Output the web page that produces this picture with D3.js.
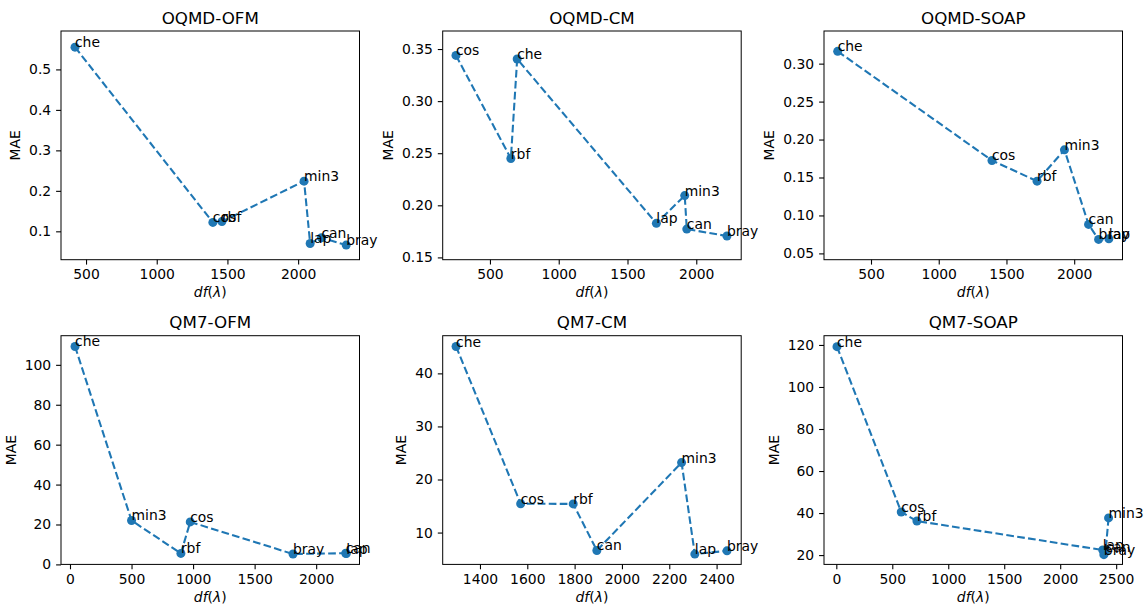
<!DOCTYPE html>
<html>
<head>
<meta charset="utf-8">
<script src="https://cdn.jsdelivr.net/npm/d3@7"></script>
<style>
  body { margin: 0; background: #fff; }
  svg { display: block; font-family: 'DejaVu Sans', sans-serif; }
  .tick text { font-size: 13.9px; fill: #000; }
  .tick line { stroke: #000; stroke-width: 1.1px; }
</style>
</head>
<body>
<div id="chart"></div>
<script>
// methods, same order for every panel
var methods = ['che', 'cos', 'rbf', 'min3', 'lap', 'can', 'bray'];

var titles = ['OQMD-OFM', 'OQMD-CM', 'OQMD-SOAP', 'QM7-OFM', 'QM7-CM', 'QM7-SOAP'];

// df(lambda) per panel (order of methods)
var oqmdOfmDf  = [422, 1397, 1461, 2042, 2085, 2165, 2340];
var oqmdCmDf   = [698, 253, 652, 1916, 1710, 1931, 2223];
var oqmdSoapDf = [254, 1393, 1726, 1928, 2256, 2106, 2180];
var qm7OfmDf   = [41, 977, 901, 500, 2245, 2240, 1812];
var qm7CmDf    = [1299, 1572, 1794, 2252, 2308, 1894, 2444];
var qm7SoapDf  = [6, 580, 720, 2432, 2380, 2405, 2390];

// MAE per panel (order of methods)
var oqmdOfmMae  = [0.555, 0.122, 0.124, 0.224, 0.070, 0.084, 0.066];
var oqmdCmMae   = [0.3404, 0.3439, 0.2449, 0.2093, 0.1827, 0.1772, 0.1705];
var oqmdSoapMae = [0.3162, 0.1724, 0.1452, 0.1864, 0.0693, 0.0882, 0.0684];
var qm7OfmMae   = [109.2, 21.3, 5.5, 22.0, 5.4, 5.6, 5.2];
var qm7CmMae    = [45.06, 15.44, 15.40, 23.19, 5.94, 6.63, 6.56];
var qm7SoapMae  = [119.2, 40.5, 36.2, 37.7, 22.4, 21.6, 20.2];

// axis limits and ticks
var xLims = [[323, 2434], [156.5, 2326.6], [153, 2356.6], [-73, 2352], [1242.5, 2504], [-110, 2556.5]];
var yLims = [[0.0299, 0.5949], [0.1478, 0.3673], [0.0417, 0.343], [0, 114.6], [4.0, 47.1], [15.57, 124.4]];
var xTicks = [
  [500, 1000, 1500, 2000], [500, 1000, 1500, 2000], [500, 1000, 1500, 2000],
  [0, 500, 1000, 1500, 2000], [1400, 1600, 1800, 2000, 2200, 2400], [0, 500, 1000, 1500, 2000, 2500]
];
var yTicks = [
  [0.1, 0.2, 0.3, 0.4, 0.5], [0.15, 0.20, 0.25, 0.30, 0.35], [0.05, 0.10, 0.15, 0.20, 0.25, 0.30],
  [0, 20, 40, 60, 80, 100], [10, 20, 30, 40], [20, 40, 60, 80, 100, 120]
];
var yFormats = ['.1f', '.2f', '.2f', 'd', 'd', 'd'];

var dfs = [oqmdOfmDf, oqmdCmDf, oqmdSoapDf, qm7OfmDf, qm7CmDf, qm7SoapDf];
var maes = [oqmdOfmMae, oqmdCmMae, oqmdSoapMae, qm7OfmMae, qm7CmMae, qm7SoapMae];

var W = 1147, H = 607;
var colLeft = [61, 442.7, 824], colW = 298.5;
var rowTop = [31, 335.7], rowH = 228.7;
var blue = '#1f77b4';
var fs = 13.9;

var svg = d3.select('#chart').append('svg').attr('width', W).attr('height', H);

titles.forEach(function (title, p) {
  var left = colLeft[p % 3], top = rowTop[Math.floor(p / 3)];
  var g = svg.append('g').attr('transform', 'translate(' + left + ',' + top + ')');

  var x = d3.scaleLinear().domain(xLims[p]).range([0, colW]);
  var y = d3.scaleLinear().domain(yLims[p]).range([rowH, 0]);

  var pts = methods.map(function (m, i) { return { name: m, df: dfs[p][i], mae: maes[p][i] }; });
  var sorted = pts.slice().sort(function (a, b) { return a.df - b.df; });

  // axes
  var xa = g.append('g').attr('transform', 'translate(0,' + rowH + ')')
    .call(d3.axisBottom(x).tickValues(xTicks[p]).tickSize(4.9).tickPadding(4.9).tickSizeOuter(0).tickFormat(d3.format('d')));
  var ya = g.append('g')
    .call(d3.axisLeft(y).tickValues(yTicks[p]).tickSize(4.9).tickPadding(4.9).tickSizeOuter(0).tickFormat(d3.format(yFormats[p])));
  xa.select('.domain').remove();
  ya.select('.domain').remove();
  xa.selectAll('text').attr('font-family', 'DejaVu Sans').attr('font-size', fs);
  ya.selectAll('text').attr('font-family', 'DejaVu Sans').attr('font-size', fs);

  // dashed line (sorted by df)
  g.append('path')
    .datum(sorted)
    .attr('fill', 'none')
    .attr('stroke', blue)
    .attr('stroke-width', 2.08)
    .attr('stroke-dasharray', '7.7,3.3')
    .attr('d', d3.line().x(function (d) { return x(d.df); }).y(function (d) { return y(d.mae); }));

  g.selectAll('circle.pt').data(pts).enter().append('circle')
    .attr('class', 'pt')
    .attr('cx', function (d) { return x(d.df); })
    .attr('cy', function (d) { return y(d.mae); })
    .attr('r', 4.5)
    .attr('fill', blue);

  g.selectAll('text.lbl').data(pts).enter().append('text')
    .attr('class', 'lbl')
    .attr('x', function (d) { return x(d.df); })
    .attr('y', function (d) { return y(d.mae); })
    .attr('font-size', fs)
    .attr('fill', '#000')
    .text(function (d) { return d.name; });

  // frame
  g.append('rect').attr('width', colW).attr('height', rowH)
    .attr('fill', 'none').attr('stroke', '#000').attr('stroke-width', 1);

  // title
  g.append('text').attr('x', colW / 2).attr('y', -7.5)
    .attr('text-anchor', 'middle').attr('font-size', 16.7).attr('fill', '#000')
    .text(title);

  // x label
  var xl = g.append('text').attr('x', colW / 2).attr('y', rowH + 37.5)
    .attr('text-anchor', 'middle').attr('font-size', fs).attr('fill', '#000');
  xl.append('tspan').attr('font-style', 'italic').text('df');
  xl.append('tspan').text('(');
  xl.append('tspan').attr('font-style', 'italic').text('λ');
  xl.append('tspan').text(')');

  // y label, placed left of the tick labels
  var bb = ya.node().getBBox();
  g.append('text')
    .attr('transform', 'translate(' + (bb.x - 5.6 - 3.2) + ',' + (rowH / 2) + ') rotate(-90)')
    .attr('text-anchor', 'middle').attr('font-size', fs).attr('fill', '#000')
    .text('MAE');
});
</script>
</body>
</html>
